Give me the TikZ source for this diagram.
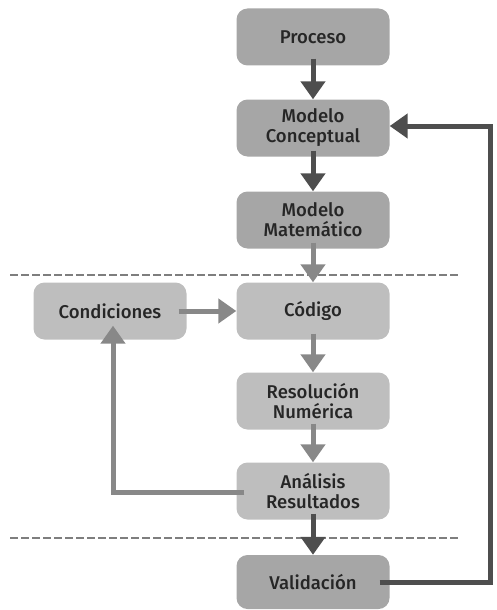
\documentclass[tikz,border=0pt]{standalone}
\usepackage{fontspec}
\setmainfont{Fira Sans}[UprightFont={* Medium}]
\usetikzlibrary{arrows.meta}
\definecolor{boxdark}{HTML}{A6A6A6}
\definecolor{boxlight}{HTML}{BEBEBE}
\definecolor{arrdark}{HTML}{4E4E4E}
\definecolor{arrlight}{HTML}{888888}
\definecolor{sepcol}{HTML}{7E7E7E}
\begin{document}
\begin{tikzpicture}[x=1pt,y=-1pt,
  box/.style={rounded corners=11pt, minimum width=153pt, minimum height=57pt, align=center, inner sep=2pt,
    font=\fontsize{18.5}{20}\selectfont, text=black!85},
  dbox/.style={box, fill=boxdark},
  lbox/.style={box, fill=boxlight},
  darr/.style={draw=arrdark, line width=5pt, -{Triangle[length=18pt,width=24pt]}, arrdark},
  larr/.style={draw=arrlight, line width=5pt, -{Triangle[length=18pt,width=24pt]}, arrlight},
  sep/.style={draw=sepcol, line width=2.5pt, dash pattern=on 7.5pt off 3.5pt}]
\useasboundingbox (0,0) rectangle (497,610);
\node[dbox] (proc) at (313,37) {Proceso};
\node[dbox] (mc) at (313,128) {Modelo\\Conceptual};
\node[dbox] (mm) at (313,220) {Modelo\\Matemático};
\node[lbox] (cod) at (313,311) {Código};
\node[lbox] (cond) at (110,311) {Condiciones};
\node[lbox] (res) at (313,401) {Resolución\\Numérica};
\node[lbox] (an) at (313,491) {Análisis\\Resultados};
\node[dbox, minimum height=54pt] (val) at (313,582) {Validación};
\coordinate (s1a) at (10,275); \coordinate (s1b) at (460,275);
\coordinate (s2a) at (10,538); \coordinate (s2b) at (460,538);
\draw[sep] (s1a) -- (s1b);
\draw[sep] (s2a) -- (s2b);
\draw[darr] ([yshift=7pt]proc.south) -- (mc.north);
\draw[darr] ([yshift=6pt]mc.south) -- (mm.north);
\draw[larr] ([yshift=6pt]mm.south) -- (cod.north);
\draw[larr] ([xshift=-8pt]cond.east) -- (cod.west);
\draw[larr] ([yshift=6pt]cod.south) -- (res.north);
\draw[larr] ([yshift=6pt]res.south) -- (an.north);
\draw[darr] ([yshift=6pt]an.south) -- (val.north);
\coordinate (c1) at (113,492);
\draw[larr] ([xshift=8pt]an.west |- c1) -- (c1) -- ([yshift=14pt]cond.south -| c1);
\coordinate (f1) at (490,582);
\coordinate (f2) at (490,126);
\draw[darr] ([xshift=-10pt]val.east) -- (f1) -- (f2) -- (mc.east |- f2);
\end{tikzpicture}
\end{document}
